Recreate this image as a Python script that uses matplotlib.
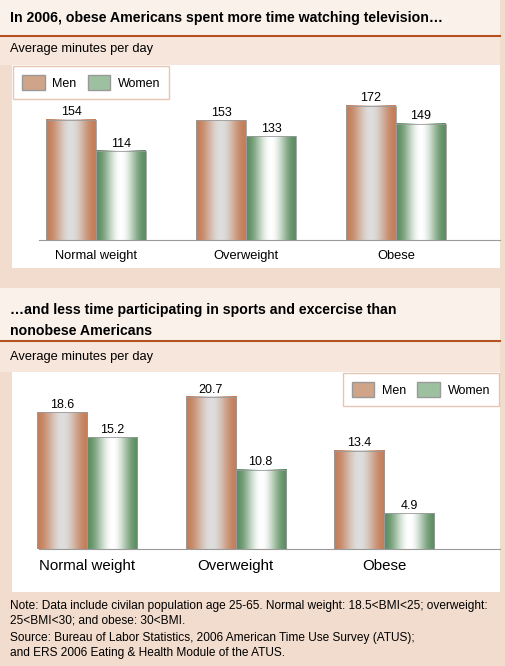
import matplotlib
matplotlib.use("Agg")
import matplotlib.pyplot as plt
import numpy as np
from matplotlib.patches import Rectangle, Patch

plt.rcParams["font.family"] = ["Liberation Sans", "DejaVu Sans"]

categories = ["Normal weight", "Overweight", "Obese"]
tv_men = [154, 153, 172]
tv_women = [114, 133, 149]
sport_men = [18.6, 20.7, 13.4]
sport_women = [15.2, 10.8, 4.9]

W, H = 506, 666
fig = plt.figure(figsize=(W / 100, H / 100), dpi=100)
fig.patch.set_facecolor("#F2DCCD")

MEN = (np.array([196, 127, 90]) / 255, np.array([222, 222, 222]) / 255)
WOMEN = (np.array([94, 143, 99]) / 255, np.array([255, 255, 255]) / 255)


def fig_rect(x0, y0, x1, y1, color):
    fig.patches.append(Rectangle((x0 / W, 1 - y1 / H), (x1 - x0) / W, (y1 - y0) / H,
                                 transform=fig.transFigure, facecolor=color,
                                 edgecolor="none", zorder=-10))


def gradient(colors):
    edge, center = colors
    t = np.linspace(0, 1, 64)
    w = np.sin(np.pi * t) ** 2
    row = edge[None, :] * (1 - w[:, None]) + center[None, :] * w[:, None]
    return row[None, :, :]


def grad_bars(ax, xs, vals, width, colors):
    bars = ax.bar(xs, vals, width, color="none", edgecolor="#9a9a9a", linewidth=0.6, zorder=3)
    img = gradient(colors)
    for b in bars:
        ax.imshow(img, extent=(b.get_x(), b.get_x() + b.get_width(), 0, b.get_height()),
                  aspect="auto", zorder=2)
    return bars


def panel(ax_rect, xlim, ymax, width, men, women, fmt, cat_size, legend_loc):
    x0, top, x1, base = ax_rect
    ax = fig.add_axes([x0 / W, 1 - base / H, (x1 - x0) / W, (base - top) / H])
    ax.set_zorder(5)
    ax.set_facecolor("none")
    x = np.arange(len(categories))
    grad_bars(ax, x - width / 2, men, width, MEN)
    grad_bars(ax, x + width / 2, women, width, WOMEN)
    for xi, m, w in zip(x, men, women):
        ax.text(xi - width / 2, m + ymax * 0.008, fmt.format(m), ha="center", va="bottom", fontsize=9)
        ax.text(xi + width / 2, w + ymax * 0.008, fmt.format(w), ha="center", va="bottom", fontsize=9)
    ax.set_xlim(*xlim)
    ax.set_ylim(0, ymax)
    ax.set_xticks(x)
    ax.set_xticklabels(categories, fontsize=cat_size)
    ax.tick_params(length=0, pad=7)
    for s in ["top", "right", "left"]:
        ax.spines[s].set_visible(False)
    ax.spines["bottom"].set_color("#9a9a9a")
    ax.spines["bottom"].set_bounds(xlim[0] + 0.18, xlim[1])
    ax.set_yticks([])
    handles = [Patch(facecolor="#D0A488", edgecolor="#999999", label="Men"),
               Patch(facecolor="#9DC0A0", edgecolor="#999999", label="Women")]
    leg = ax.legend(handles=handles, loc=legend_loc, ncol=2, fontsize=9, frameon=True,
                    fancybox=False, handlelength=1.8, handleheight=1.5, columnspacing=0.9,
                    handletextpad=0.6, borderpad=0.7, borderaxespad=0.1)
    leg.get_frame().set_edgecolor("#E0B89C")
    leg.get_frame().set_linewidth(1.0)
    return ax


# top panel backgrounds
fig_rect(0, 0, 500, 36, "#FAF1EB")
fig_rect(0, 36, 500, 65, "#F7E6DC")
fig_rect(12, 65, 500, 268, "white")
fig.add_artist(plt.Line2D([0, 500 / W], [1 - 36 / H] * 2, color="#B5521F", lw=1.5))
fig.text(10 / W, 1 - 18 / H, "In 2006, obese Americans spent more time watching television\u2026",
         fontsize=10.2, fontweight="bold", va="center")
fig.text(10 / W, 1 - 49 / H, "Average minutes per day", fontsize=9.3, va="center")

# bottom panel backgrounds
fig_rect(0, 288, 500, 341, "#FAF1EB")
fig_rect(0, 341, 500, 372, "#F7E6DC")
fig_rect(12, 372, 500, 592, "white")
fig.add_artist(plt.Line2D([0, 500 / W], [1 - 341 / H] * 2, color="#B5521F", lw=1.5))
fig.text(10 / W, 1 - 310 / H, "\u2026and less time participating in sports and excercise than",
         fontsize=10.2, fontweight="bold", va="center")
fig.text(10 / W, 1 - 331 / H, "nonobese Americans", fontsize=10.2, fontweight="bold", va="center")
fig.text(10 / W, 1 - 357 / H, "Average minutes per day", fontsize=9.3, va="center")

panel((12, 65, 500, 240), (-0.56, 2.693), 224, 0.333, tv_men, tv_women, "{:d}", 9.3, "upper left")
panel((12, 372, 500, 549), (-0.505, 2.78), 24.1, 0.337, sport_men, sport_women, "{:.1f}", 10.8, "upper right")

fig.text(10 / W, 1 - 600 / H,
         "Note: Data include civilan population age 25-65. Normal weight: 18.5<BMI<25; overweight:\n"
         "25<BMI<30; and obese: 30<BMI.", fontsize=8.6, va="top", linespacing=1.3)
fig.text(10 / W, 1 - 632 / H,
         "Source: Bureau of Labor Statistics, 2006 American Time Use Survey (ATUS);\n"
         "and ERS 2006 Eating & Health Module of the ATUS.", fontsize=8.6, va="top", linespacing=1.3)

fig.savefig("out.png", dpi=100, facecolor=fig.get_facecolor())
